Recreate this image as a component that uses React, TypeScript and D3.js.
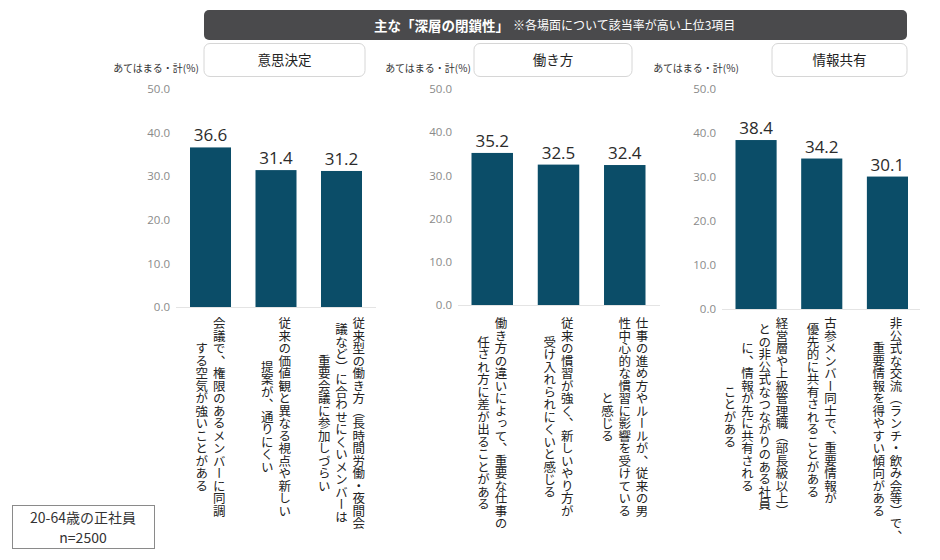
import React, { useEffect, useRef } from 'react'
import * as d3 from 'd3'

// data
const panelTitles = ['意思決定', '働き方', '情報共有']
const decisionValues = [36.6, 31.4, 31.2]
const workstyleValues = [35.2, 32.5, 32.4]
const infoValues = [38.4, 34.2, 30.1]
const decisionLabels = [
  ['会議で、権限のあるメンバーに同調', 'する空気が強いことがある'],
  ['従来の価値観と異なる視点や新しい', '提案が、通りにくい'],
  ['従来型の働き方（長時間労働・夜間会', '議など）に合わせにくいメンバーは', '重要会議に参加しづらい'],
]
const workstyleLabels = [
  ['働き方の違いによって、重要な仕事の', '任され方に差が出ることがある'],
  ['従来の慣習が強く、新しいやり方が', '受け入れられにくいと感じる'],
  ['仕事の進め方やルールが、従来の男', '性中心的な慣習に影響を受けている', 'と感じる'],
]
const infoLabels = [
  ['経営層や上級管理職（部長級以上）', 'との非公式なつながりのある社員', 'に、情報が先に共有される', 'ことがある'],
  ['古参メンバー同士で、重要情報が', '優先的に共有されることがある'],
  ['非公式な交流（ランチ・飲み会等）で、', '重要情報を得やすい傾向がある'],
]
const yTicks = [0, 10, 20, 30, 40, 50]
const titleMain = '主な「深層の閉鎖性」'
const titleNote = '※各場面について該当率が高い上位3項目'
const unitLabel = 'あてはまる・計(%)'
const sampleLines = ['20-64歳の正社員', 'n=2500']

const panels = [
  { values: decisionValues, labels: decisionLabels },
  { values: workstyleValues, labels: workstyleLabels },
  { values: infoValues, labels: infoLabels },
]

// layout per panel
const layout = [
  { axisX: 176, bars: [190, 362], base: 307, lineEnd: 376, box: [204, 365], unitX: 156 },
  { axisX: 458, bars: [471.5, 645.5], base: 305, lineEnd: 660, box: [474, 632], unitX: 428 },
  { axisX: 722, bars: [735.5, 908], base: 309, lineEnd: 920, box: [772, 907], unitX: 696 },
]

const W = 940
const H = 560
const JP = '"Noto Sans CJK JP", "Noto Sans", sans-serif'
const NUM = '"Open Sans", "Noto Sans", sans-serif'
const barColor = '#0b4d68'
const charSize = 12.5
const colGap = 17.3
const labelTop = 317

export default function App() {
  const ref = useRef<SVGSVGElement>(null)

  useEffect(() => {
    const svg = d3.select(ref.current)
    svg.selectAll('*').remove()

    // title bar
    svg.append('rect')
      .attr('x', 204).attr('y', 10).attr('width', 703).attr('height', 30)
      .attr('rx', 5).attr('fill', '#4a4a4c')
    svg.append('text')
      .attr('x', 374).attr('y', 30.5)
      .attr('fill', '#fff')
      .attr('font-family', JP).attr('font-size', 13.5).attr('font-weight', 700)
      .text(titleMain)
    svg.append('text')
      .attr('x', 513).attr('y', 30)
      .attr('fill', '#fff')
      .attr('font-family', JP).attr('font-size', 12)
      .text(titleNote)

    panels.forEach((p, pi) => {
      const L = layout[pi]
      const g = svg.append('g')

      // header box
      g.append('rect')
        .attr('x', L.box[0]).attr('y', 43.5)
        .attr('width', L.box[1] - L.box[0]).attr('height', 33)
        .attr('rx', 6).attr('fill', '#fff')
        .attr('stroke', '#d6d6d6')
      g.append('text')
        .attr('x', (L.box[0] + L.box[1]) / 2).attr('y', 65)
        .attr('text-anchor', 'middle')
        .attr('font-family', JP).attr('font-size', 13.5)
        .attr('fill', '#222')
        .text(panelTitles[pi])

      g.append('text')
        .attr('x', L.unitX).attr('y', 72)
        .attr('text-anchor', 'middle')
        .attr('font-family', JP).attr('font-size', 10)
        .attr('fill', '#333')
        .text(unitLabel)

      const x = d3.scaleBand<number>()
        .domain(d3.range(p.values.length))
        .range(L.bars as [number, number])
        .paddingInner(0.374)
        .paddingOuter(0)
      const y = d3.scaleLinear().domain([0, 50]).range([L.base, 89])

      // y axis
      const axis = g.append('g')
        .attr('transform', `translate(${L.axisX},0)`)
        .call(d3.axisLeft(y).tickValues(yTicks).tickFormat(d3.format('.1f')).tickSize(0).tickPadding(6))
      axis.select('.domain').remove()
      axis.selectAll('text')
        .attr('font-family', NUM).attr('font-size', 11.5)
        .attr('fill', '#8a8a8a')

      // baseline
      g.append('line')
        .attr('x1', L.axisX).attr('x2', L.lineEnd)
        .attr('y1', L.base + 0.5).attr('y2', L.base + 0.5)
        .attr('stroke', '#e4e4e4')

      // bars
      g.selectAll('rect.bar')
        .data(p.values)
        .join('rect')
        .attr('class', 'bar')
        .attr('x', (d, i) => x(i)!)
        .attr('y', d => y(d))
        .attr('width', x.bandwidth())
        .attr('height', d => y(0) - y(d))
        .attr('fill', barColor)

      // value labels
      g.selectAll('text.val')
        .data(p.values)
        .join('text')
        .attr('class', 'val')
        .attr('x', (d, i) => x(i)! + x.bandwidth() / 2)
        .attr('y', d => y(d) - 6)
        .attr('text-anchor', 'middle')
        .attr('font-family', NUM).attr('font-size', 17)
        .attr('fill', '#2b2b2b')
        .text(d => d.toFixed(1))

      // vertical category labels: columns right to left, each char in its own cell
      p.labels.forEach((cols, i) => {
        const cx = x(i)! + x.bandwidth() / 2
        const maxLen = d3.max(cols, c => Array.from(c).length)!
        cols.forEach((c, j) => {
          const chars = Array.from(c)
          const colX = cx + ((cols.length - 1) / 2 - j) * colGap
          const top = labelTop + ((maxLen - chars.length) * charSize) / 2
          const colG = g.append('g')
          chars.forEach((ch, k) => {
            colG.append('text')
              .attr('x', colX)
              .attr('y', top + k * charSize)
              .style('writing-mode', 'vertical-rl')
              .attr('font-family', JP).attr('font-size', charSize)
              .attr('fill', '#222')
              .text(ch)
          })
        })
      })
    })

    // sample box
    svg.append('rect')
      .attr('x', 12.5).attr('y', 505.5).attr('width', 142).attr('height', 43)
      .attr('fill', '#fff').attr('stroke', '#8a8a8a')
    svg.selectAll('text.sample')
      .data(sampleLines)
      .join('text')
      .attr('class', 'sample')
      .attr('x', 83).attr('y', (d, i) => 523 + i * 20)
      .attr('text-anchor', 'middle')
      .attr('font-family', JP).attr('font-size', 14)
      .attr('fill', '#333')
      .text(d => d)
  }, [])

  return (
    <svg
      ref={ref}
      width={W}
      height={H}
      style={{ position: 'absolute', left: 0, top: 0, background: '#fff' }}
    />
  )
}
